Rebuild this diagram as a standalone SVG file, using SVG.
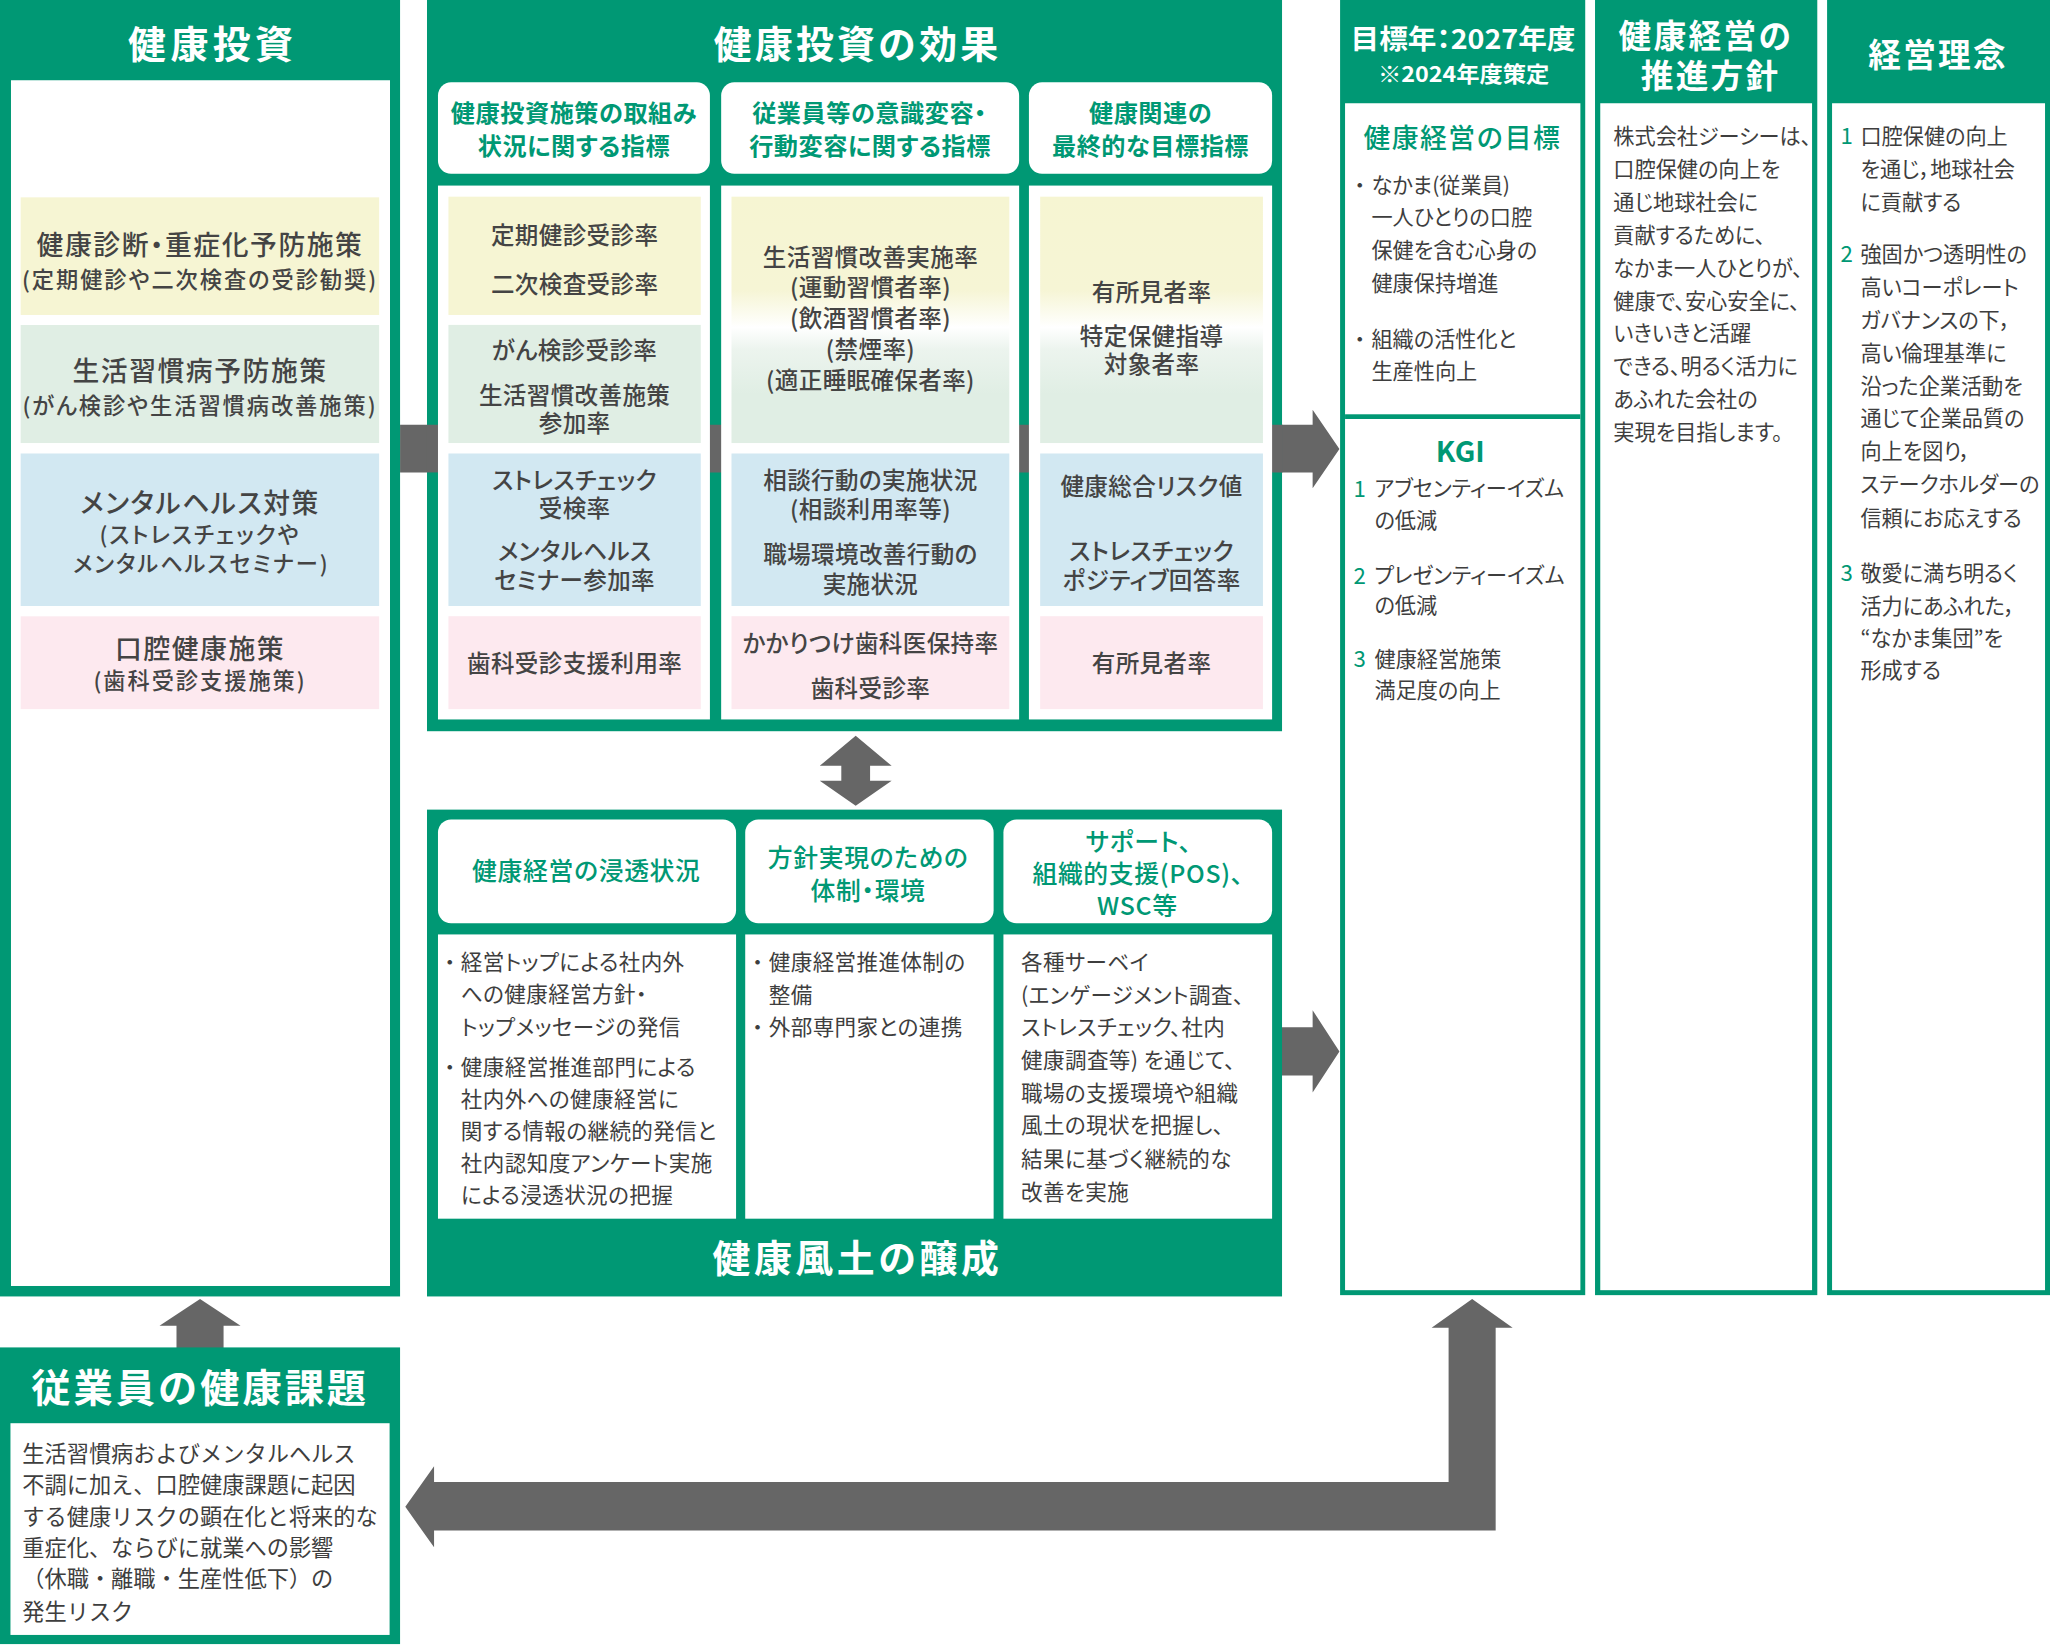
<svg xmlns="http://www.w3.org/2000/svg" width="2050" height="1648" viewBox="0 0 2050 1648">
<defs>
<style>
.g{fill:#009874}
.w{fill:#ffffff}
.ar{fill:#666666}
.cy{fill:#f6f5d3}
.cg{fill:#e0eee4}
.cb{fill:#d2e8f2}
.cp{fill:#fde9ef}
text{font-family:"Noto Sans CJK JP","Noto Sans",sans-serif;dominant-baseline:central}
.tt{fill:#ffffff;font-weight:700;text-anchor:middle}
.lm{fill:#444444;font-weight:500;font-size:20.5px;letter-spacing:1.2px;text-anchor:middle;font-feature-settings:"palt"}
.ls{fill:#444444;font-weight:500;font-size:17px;letter-spacing:1.5px;text-anchor:middle;font-feature-settings:"palt"}
.mc{fill:#444444;font-weight:500;font-size:18px;letter-spacing:0.3px;text-anchor:middle;font-feature-settings:"palt"}
.mh{fill:#009874;font-weight:700;font-size:18.5px;letter-spacing:0.4px;text-anchor:middle;font-feature-settings:"palt"}
.bh{fill:#009874;font-weight:500;font-size:19px;letter-spacing:0.5px;text-anchor:middle;font-feature-settings:"palt"}
.bt{fill:#3e3e3e;font-weight:400;font-size:16.5px;letter-spacing:0.3px;font-feature-settings:"palt"}
.bu{fill:#3e3e3e;font-weight:400;font-size:16.5px;text-anchor:middle}
.rt{fill:#3e3e3e;font-weight:400;font-size:16.2px;font-feature-settings:"palt"}
.num{fill:#009874;font-weight:400;font-size:17px;text-anchor:middle}
.kt{fill:#3e3e3e;font-weight:400;font-size:17px}
</style>
<linearGradient id="grad" x1="0" y1="0" x2="0" y2="1">
<stop offset="0" stop-color="#f6f5d2"/>
<stop offset="0.38" stop-color="#f6f5d5"/>
<stop offset="0.5" stop-color="#fdfdf6"/>
<stop offset="0.53" stop-color="#ffffff"/>
<stop offset="0.62" stop-color="#ecf4ee"/>
<stop offset="0.8" stop-color="#e0eee4"/>
<stop offset="1" stop-color="#e0eee4"/>
</linearGradient>
</defs>
<g transform="scale(1.3074 1.3069)">

<g id="connectors">
<path class="ar" d="M306,325 L1004,325 L1004,313.5 L1024.5,343.5 L1004,373.5 L1004,361.5 L306,361.5 Z"/>
<path class="ar" d="M975,786 L1004,786 L1004,773 L1024.5,804.5 L1004,836 L1004,823 L975,823 Z"/>
<path class="ar" d="M654.5,563 L682,586 L665.5,586 L665.5,597.5 L682,597.5 L654.5,616.5 L627,597.5 L643.5,597.5 L643.5,586 L627,586 Z"/>
<path class="ar" d="M153,994 L184,1014.5 L171,1014.5 L171,1032 L135,1032 L135,1014.5 L122,1014.5 Z"/>
<path class="ar" d="M1126,994 L1157,1016 L1144,1016 L1144,1171 L332,1171 L332,1184 L310,1153 L332,1122 L332,1134 L1108,1134 L1108,1016 L1095,1016 Z"/>
</g>

<g id="kenko-toshi">
<rect class="g" x="0" y="0" width="306" height="992"/>
<rect class="w" x="8.4" y="61.4" width="289.9" height="922.6"/>
<text class="tt" x="161" y="31.6" font-size="29" textLength="126" lengthAdjust="spacing">健康投資</text>
<rect class="cy" x="15.8" y="151" width="274.2" height="90"/>
<rect class="cg" x="15.8" y="248.7" width="274.2" height="90.3"/>
<rect class="cb" x="15.8" y="347" width="274.2" height="116.7"/>
<rect class="cp" x="15.8" y="471.6" width="274.2" height="71"/>
<text class="lm" x="153" y="186">健康診断・重症化予防施策</text>
<text class="ls" x="153" y="212.5">(定期健診や二次検査の受診勧奨)</text>
<text class="lm" x="153" y="282.7">生活習慣病予防施策</text>
<text class="ls" x="153" y="309">(がん検診や生活習慣病改善施策)</text>
<text class="lm" x="153" y="384">メンタルヘルス対策</text>
<text class="ls" x="153" y="408">(ストレスチェックや</text>
<text class="ls" x="154" y="430.3">メンタルヘルスセミナー)</text>
<text class="lm" x="153" y="495.2">口腔健康施策</text>
<text class="ls" x="153" y="519.8">(歯科受診支援施策)</text>
</g>

<g id="toshi-koka">
<rect class="g" x="326.6" y="0" width="654" height="559.5"/>
<text class="tt" x="654.7" y="31.8" font-size="29" textLength="217.5" lengthAdjust="spacing">健康投資の効果</text>
</g>
<path class="ar" d="M326.6,325 L340,325 L340,361.5 L326.6,361.5 Z"/>
<path class="ar" d="M540,325 L555,325 L555,361.5 L540,361.5 Z M776,325 L790,325 L790,361.5 L776,361.5 Z M970,325 L981,325 L981,361.5 L970,361.5 Z"/>

<g id="koka-col1">
<rect class="w" x="335" y="63" width="208" height="70" rx="10"/>
<text class="mh" x="439" y="85.5">健康投資施策の取組み</text>
<text class="mh" x="439" y="110.8">状況に関する指標</text>
<rect class="w" x="335" y="142" width="208" height="408.5"/>
<rect class="cy" x="343" y="150.5" width="193" height="90.5"/>
<rect class="cg" x="343" y="248.6" width="193" height="90.4"/>
<rect class="cb" x="343" y="347" width="193" height="116.7"/>
<rect class="cp" x="343" y="471.5" width="193" height="71.1"/>
<text class="mc" x="439.5" y="179.4">定期健診受診率</text>
<text class="mc" x="439.5" y="216.5">二次検査受診率</text>
<text class="mc" x="439.5" y="267">がん検診受診率</text>
<text class="mc" x="439.5" y="301.5">生活習慣改善施策</text>
<text class="mc" x="439.5" y="323">参加率</text>
<text class="mc" x="439.5" y="366.4">ストレスチェック</text>
<text class="mc" x="439.5" y="388">受検率</text>
<text class="mc" x="439.5" y="420.7">メンタルヘルス</text>
<text class="mc" x="439.5" y="443.3">セミナー参加率</text>
<text class="mc" x="439.5" y="506.5">歯科受診支援利用率</text>
</g>

<g id="koka-col2">
<rect class="w" x="551.6" y="63" width="227.9" height="70" rx="10"/>
<text class="mh" x="665" y="85.5">従業員等の意識変容・</text>
<text class="mh" x="665.5" y="110.8">行動変容に関する指標</text>
<rect class="w" x="551.6" y="142" width="227.9" height="408.5"/>
<rect fill="url(#grad)" x="559.5" y="150.5" width="212.5" height="188.5"/>
<rect class="cb" x="559.5" y="347" width="212.5" height="116.7"/>
<rect class="cp" x="559.5" y="471.5" width="212.5" height="71.1"/>
<text class="mc" x="665.8" y="195.6">生活習慣改善実施率</text>
<text class="mc" x="665.8" y="219">(運動習慣者率)</text>
<text class="mc" x="665.8" y="242.7">(飲酒習慣者率)</text>
<text class="mc" x="665.8" y="266">(禁煙率)</text>
<text class="mc" x="665.8" y="290">(適正睡眠確保者率)</text>
<text class="mc" x="665.8" y="366.4">相談行動の実施状況</text>
<text class="mc" x="665.8" y="389">(相談利用率等)</text>
<text class="mc" x="665.8" y="423.4">職場環境改善行動の</text>
<text class="mc" x="665.8" y="445.8">実施状況</text>
<text class="mc" x="665.8" y="491">かかりつけ歯科医保持率</text>
<text class="mc" x="665.8" y="526">歯科受診率</text>
</g>

<g id="koka-col3">
<rect class="w" x="787" y="63" width="186" height="70" rx="10"/>
<text class="mh" x="880" y="85.5">健康関連の</text>
<text class="mh" x="880" y="110.8">最終的な目標指標</text>
<rect class="w" x="787" y="142" width="186" height="408.5"/>
<rect fill="url(#grad)" x="795.6" y="150.5" width="170.4" height="188.5"/>
<rect class="cb" x="795.6" y="347" width="170.4" height="116.7"/>
<rect class="cp" x="795.6" y="471.5" width="170.4" height="71.1"/>
<text class="mc" x="880.8" y="222.7">有所見者率</text>
<text class="mc" x="880.8" y="256.3">特定保健指導</text>
<text class="mc" x="880.8" y="278">対象者率</text>
<text class="mc" x="880.8" y="371">健康総合リスク値</text>
<text class="mc" x="880.8" y="420.5">ストレスチェック</text>
<text class="mc" x="880.8" y="443.3">ポジティブ回答率</text>
<text class="mc" x="880.8" y="506.5">有所見者率</text>
</g>

<g id="kenko-fudo">
<rect class="g" x="326.6" y="619.5" width="654" height="372.5"/>
<text class="tt" x="654.5" y="960.6" font-size="29" textLength="219" lengthAdjust="spacing">健康風土の醸成</text>
</g>

<g id="fudo-col1">
<rect class="w" x="335" y="627" width="228" height="79.5" rx="10"/>
<text class="bh" x="448.5" y="665.3">健康経営の浸透状況</text>
<rect class="w" x="335" y="715" width="228" height="217.5"/>
<text class="bu" x="344" y="735">・</text>
<text class="bt" x="352.5" y="735">経営トップによる社内外</text>
<text class="bt" x="352.5" y="759.5">への健康経営方針・</text>
<text class="bt" x="352.5" y="784.8">トップメッセージの発信</text>
<text class="bu" x="344" y="815">・</text>
<text class="bt" x="352.5" y="815">健康経営推進部門による</text>
<text class="bt" x="352.5" y="839.6">社内外への健康経営に</text>
<text class="bt" x="352.5" y="864">関する情報の継続的発信と</text>
<text class="bt" x="352.5" y="888.8">社内認知度アンケート実施</text>
<text class="bt" x="352.5" y="913">による浸透状況の把握</text>
</g>

<g id="fudo-col2">
<rect class="w" x="570" y="627" width="190" height="79.5" rx="10"/>
<text class="bh" x="664" y="654.8">方針実現のための</text>
<text class="bh" x="664" y="680.4">体制・環境</text>
<rect class="w" x="570" y="715" width="190" height="217.5"/>
<text class="bu" x="579.5" y="735">・</text>
<text class="bt" x="588" y="735">健康経営推進体制の</text>
<text class="bt" x="588" y="760">整備</text>
<text class="bu" x="579.5" y="785">・</text>
<text class="bt" x="588" y="785">外部専門家との連携</text>
</g>

<g id="fudo-col3">
<rect class="w" x="767.5" y="627" width="205.5" height="79.5" rx="10"/>
<text class="bh" x="871" y="643">サポート、</text>
<text class="bh" x="870.5" y="667.3">組織的支援(POS)、</text>
<text class="bh" x="870" y="692">WSC等</text>
<rect class="w" x="767.5" y="715" width="205.5" height="217.5"/>
<text class="bt" x="781" y="735">各種サーベイ</text>
<text class="bt" x="781" y="760">(エンゲージメント調査、</text>
<text class="bt" x="781" y="785">ストレスチェック、社内</text>
<text class="bt" x="781" y="810">健康調査等) を通じて、</text>
<text class="bt" x="781" y="835">職場の支援環境や組織</text>
<text class="bt" x="781" y="860">風土の現状を把握し、</text>
<text class="bt" x="781" y="885.5">結果に基づく継続的な</text>
<text class="bt" x="781" y="910.7">改善を実施</text>
</g>

<g id="mokuhyo">
<rect class="g" x="1025" y="0" width="187.5" height="991"/>
<rect class="w" x="1028.8" y="79" width="180" height="908.2"/>
<rect class="g" x="1028.8" y="317" width="180" height="3.6"/>
<text class="tt" x="1119" y="28.1" font-size="21" textLength="172" lengthAdjust="spacingAndGlyphs" style="font-feature-settings:'palt'">目標年：2027年度</text>
<text class="tt" x="1119.5" y="55.1" font-size="16.5" font-weight="500" textLength="131" lengthAdjust="spacingAndGlyphs">※2024年度策定</text>
<text x="1118" y="104.5" font-size="20.5" fill="#009874" font-weight="500" text-anchor="middle" textLength="150" lengthAdjust="spacing">健康経営の目標</text>
<text class="bu" x="1040" y="140.5">・</text>
<text class="rt" x="1049" y="140.5">なかま(従業員)</text>
<text class="rt" x="1049" y="165">一人ひとりの口腔</text>
<text class="rt" x="1049" y="190.4">保健を含む心身の</text>
<text class="rt" x="1049" y="215.3">健康保持増進</text>
<text class="bu" x="1040" y="258">・</text>
<text class="rt" x="1049" y="258">組織の活性化と</text>
<text class="rt" x="1049" y="282.7">生産性向上</text>
<text x="1117" y="344.2" font-size="22" fill="#009874" font-weight="700" text-anchor="middle">KGI</text>
<text class="num" x="1040" y="372.3">1</text>
<text class="rt" x="1051.3" y="372.3">アブセンティーイズム</text>
<text class="rt" x="1051.3" y="396.9">の低減</text>
<text class="num" x="1040" y="439">2</text>
<text class="rt" x="1051.3" y="439">プレゼンティーイズム</text>
<text class="rt" x="1051.3" y="461.8">の低減</text>
<text class="num" x="1040" y="503">3</text>
<text class="rt" x="1051.3" y="503">健康経営施策</text>
<text class="rt" x="1051.3" y="526.8">満足度の向上</text>
</g>

<g id="suishin-hoshin">
<rect class="g" x="1220" y="0" width="170" height="991"/>
<rect class="w" x="1224" y="79" width="162" height="908.2"/>
<text class="tt" x="1304" y="25.3" font-size="25" textLength="132" lengthAdjust="spacing">健康経営の</text>
<text class="tt" x="1307.5" y="56.2" font-size="25" textLength="105" lengthAdjust="spacing">推進方針</text>
<text class="rt" x="1234" y="102.9">株式会社ジーシーは、</text>
<text class="rt" x="1234" y="128.2">口腔保健の向上を</text>
<text class="rt" x="1234" y="153.5">通じ地球社会に</text>
<text class="rt" x="1234" y="178.3">貢献するために、</text>
<text class="rt" x="1234" y="203.6">なかま一人ひとりが、</text>
<text class="rt" x="1234" y="228.8">健康で、安心安全に、</text>
<text class="rt" x="1234" y="253.9">いきいきと活躍</text>
<text class="rt" x="1234" y="279.2">できる、明るく活力に</text>
<text class="rt" x="1234" y="304.4">あふれた会社の</text>
<text class="rt" x="1234" y="329.7">実現を目指します。</text>
</g>

<g id="keiei-rinen">
<rect class="g" x="1397.5" y="0" width="170.5" height="991"/>
<rect class="w" x="1401.3" y="79" width="162.9" height="908.2"/>
<text class="tt" x="1481.5" y="40.4" font-size="25" textLength="105" lengthAdjust="spacing">経営理念</text>
<text class="num" x="1412.5" y="102.9">1</text>
<text class="rt" x="1423" y="102.9">口腔保健の向上</text>
<text class="rt" x="1423" y="128.2">を通じ，地球社会</text>
<text class="rt" x="1423" y="153.5">に貢献する</text>
<text class="num" x="1412.5" y="193.2">2</text>
<text class="rt" x="1423" y="193.2">強固かつ透明性の</text>
<text class="rt" x="1423" y="218.5">高いコーポレート</text>
<text class="rt" x="1423" y="243.4">ガバナンスの下，</text>
<text class="rt" x="1423" y="268.7">高い倫理基準に</text>
<text class="rt" x="1423" y="294">沿った企業活動を</text>
<text class="rt" x="1423" y="318.9">通じて企業品質の</text>
<text class="rt" x="1423" y="344.2">向上を図り，</text>
<text class="rt" x="1423" y="369.5">ステークホルダーの</text>
<text class="rt" x="1423" y="395">信頼にお応えする</text>
<text class="num" x="1412.5" y="437.2">3</text>
<text class="rt" x="1423" y="437.2">敬愛に満ち明るく</text>
<text class="rt" x="1423" y="462.6">活力にあふれた，</text>
<text class="rt" x="1423" y="487.2">“なかま集団”を</text>
<text class="rt" x="1423" y="511.7">形成する</text>
</g>

<g id="kenko-kadai">
<rect class="g" x="0" y="1031" width="306" height="227"/>
<rect class="w" x="8" y="1089" width="290" height="162"/>
<text class="tt" x="152" y="1060" font-size="30" textLength="256" lengthAdjust="spacing">従業員の健康課題</text>
<text class="kt" x="17" y="1111">生活習慣病およびメンタルヘルス</text>
<text class="kt" x="17" y="1135">不調に加え、口腔健康課題に起因</text>
<text class="kt" x="17" y="1159">する健康リスクの顕在化と将来的な</text>
<text class="kt" x="17" y="1183">重症化、ならびに就業への影響</text>
<text class="kt" x="17" y="1207">（休職・離職・生産性低下）の</text>
<text class="kt" x="17" y="1232">発生リスク</text>
</g>

</g>
</svg>
